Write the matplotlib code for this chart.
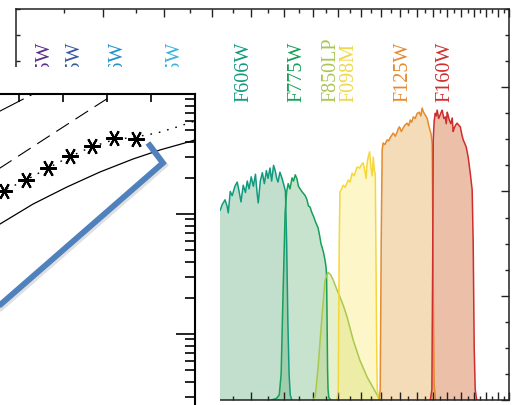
import numpy as np
import matplotlib
matplotlib.use('Agg')
import matplotlib.pyplot as plt
import matplotlib.patheffects as pe
from matplotlib.patches import Rectangle
from matplotlib.ticker import FixedLocator, NullFormatter, NullLocator, MultipleLocator

# ---- filter throughput curves (wavelength in micron, throughput) ----
f606w_wl = [0.47, 0.48, 0.49, 0.50, 0.51, 0.519, 0.524, 0.531, 0.536, 0.539, 0.544, 0.549,
            0.556, 0.562, 0.567, 0.572, 0.578, 0.584, 0.589, 0.594, 0.600, 0.606, 0.612,
            0.617, 0.620, 0.626, 0.632, 0.638, 0.644, 0.649, 0.655, 0.660, 0.666, 0.671,
            0.676, 0.680, 0.686, 0.693, 0.699, 0.704, 0.708, 0.712, 0.716, 0.720, 0.725]
f606w_tp = [0.0, 0.25, 0.33, 0.35, 0.36, 0.364, 0.375, 0.384, 0.372, 0.359, 0.400, 0.392,
            0.410, 0.418, 0.400, 0.380, 0.412, 0.398, 0.420, 0.405, 0.428, 0.410, 0.433,
            0.395, 0.378, 0.420, 0.436, 0.415, 0.440, 0.425, 0.445, 0.420, 0.450, 0.440,
            0.425, 0.418, 0.437, 0.425, 0.412, 0.400, 0.300, 0.150, 0.050, 0.010, 0.0]

f775w_wl = [0.66, 0.675, 0.684, 0.690, 0.696, 0.703, 0.708, 0.713, 0.719, 0.726, 0.731, 0.737,
            0.743, 0.748, 0.754, 0.760, 0.766, 0.772, 0.778, 0.784, 0.790, 0.796, 0.803,
            0.809, 0.815, 0.820, 0.826, 0.831, 0.836, 0.840, 0.844, 0.848, 0.851, 0.853,
            0.855, 0.857, 0.859, 0.862, 0.87]
f775w_tp = [0.0, 0.003, 0.01, 0.05, 0.20, 0.36, 0.40, 0.415, 0.405, 0.426, 0.420, 0.432,
            0.424, 0.410, 0.405, 0.400, 0.396, 0.392, 0.385, 0.372, 0.370, 0.360, 0.352,
            0.343, 0.336, 0.330, 0.315, 0.300, 0.292, 0.285, 0.276, 0.265, 0.255, 0.240,
            0.160, 0.060, 0.020, 0.005, 0.0]

f850lp_wl = [0.80, 0.809, 0.820, 0.836, 0.847, 0.859, 0.870, 0.880, 0.895, 0.908, 0.925,
             0.939, 0.966, 0.996, 1.031, 1.061, 1.086, 1.10]
f850lp_tp = [0.0, 0.006, 0.063, 0.167, 0.230, 0.245, 0.240, 0.230, 0.212, 0.198, 0.178,
             0.159, 0.115, 0.077, 0.044, 0.023, 0.006, 0.0]

f098m_wl = [0.895, 0.901, 0.905, 0.908, 0.915, 0.922, 0.930, 0.944, 0.952, 0.961, 0.970,
            0.984, 0.996, 1.005, 1.012, 1.020, 1.026, 1.031, 1.036, 1.043, 1.050, 1.056,
            1.061, 1.066, 1.071, 1.074, 1.078, 1.081, 1.09]
f098m_tp = [0.0, 0.02, 0.30, 0.399, 0.405, 0.412, 0.408, 0.422, 0.418, 0.435, 0.430,
            0.447, 0.445, 0.452, 0.455, 0.440, 0.425, 0.455, 0.466, 0.476, 0.445, 0.430,
            0.466, 0.440, 0.435, 0.300, 0.100, 0.020, 0.0]

f125w_wl = [1.090, 1.096, 1.101, 1.106, 1.111, 1.120, 1.132, 1.140, 1.148, 1.157, 1.165,
            1.176, 1.186, 1.192, 1.199, 1.210, 1.220, 1.232, 1.243, 1.252, 1.261, 1.270,
            1.279, 1.290, 1.303, 1.315, 1.325, 1.333, 1.342, 1.352, 1.365, 1.377, 1.390,
            1.397, 1.403, 1.410, 1.42]
f125w_tp = [0.0, 0.02, 0.30, 0.480, 0.493, 0.490, 0.499, 0.497, 0.503, 0.508, 0.512,
            0.506, 0.514, 0.520, 0.524, 0.515, 0.522, 0.528, 0.531, 0.526, 0.537, 0.533,
            0.543, 0.540, 0.550, 0.552, 0.545, 0.560, 0.552, 0.547, 0.540, 0.524, 0.510,
            0.490, 0.250, 0.030, 0.0]

f160w_wl = [1.385, 1.395, 1.400, 1.404, 1.410, 1.417, 1.424, 1.430, 1.440, 1.450, 1.457,
            1.464, 1.475, 1.485, 1.492, 1.499, 1.506, 1.513, 1.524, 1.534, 1.541, 1.549,
            1.560, 1.570, 1.582, 1.593, 1.604, 1.615, 1.627, 1.638, 1.653, 1.669, 1.684,
            1.692, 1.700, 1.708, 1.72]
f160w_tp = [0.0, 0.02, 0.25, 0.499, 0.535, 0.550, 0.545, 0.556, 0.540, 0.547, 0.552,
            0.556, 0.540, 0.543, 0.530, 0.552, 0.545, 0.537, 0.530, 0.541, 0.515, 0.522,
            0.528, 0.531, 0.527, 0.524, 0.510, 0.499, 0.492, 0.485, 0.466, 0.435, 0.403,
            0.300, 0.100, 0.020, 0.0]

# name, wavelengths, throughput, line colour, fill colour
filters = [
    ("F606W", f606w_wl, f606w_tp, "#129a80", "#51a470"),
    ("F775W", f775w_wl, f775w_tp, "#17a05a", "#62af70"),
    ("F850LP", f850lp_wl, f850lp_tp, "#aac84e", "#bdd470"),
    ("F098M", f098m_wl, f098m_tp, "#f4d83a", "#f9e862"),
    ("F125W", f125w_wl, f125w_tp, "#e38b2f", "#e29b37"),
    ("F160W", f160w_wl, f160w_tp, "#cf2e2e", "#c94809"),
]

# filter names along the top (label text, x position in micron, colour)
label_names = ["F225W", "F275W", "F336W", "F435W", "F606W", "F775W",
               "F850LP", "F098M", "F125W", "F160W"]
label_wl = [0.229, 0.263, 0.322, 0.420, 0.580, 0.743, 0.872, 0.948, 1.220, 1.485]
label_colors = ["#5c2d8a", "#3658a0", "#2490cc", "#35b3dc", "#129a80", "#17a05a",
                "#a9c752", "#f0d84a", "#e38b2f", "#cf2e2e"]

# ---- number counts panel (magnitude, counts) ----
model_a_mag = [23.0, 24.57, 25.3, 25.5]
model_a_n = [36500, 72150, 99100, 107900]

model_b_mag = [23.2, 24.57, 25.70, 26.84, 27.30]
model_b_n = [11430, 24180, 44980, 83660, 107150]

model_c_mag = [23.66, 24.57, 25.16, 25.66, 26.14, 26.64, 27.14, 27.64, 28.14, 28.59, 29.0, 29.34]
model_c_n = [10400, 15240, 19190, 24150, 29850, 36140, 41400, 43850, 47320, 53090, 59570, 64270]

model_d_mag = [23.66, 24.57, 25.32, 26.09, 26.84, 27.59, 28.20, 28.77, 29.0, 29.45]
model_d_n = [5012, 8260, 12110, 16790, 22390, 28710, 34140, 39080, 41400, 45500]

obs_mag = [24.65, 25.15, 25.65, 26.15, 26.65, 27.15, 27.65]
obs_n = [15560, 19190, 24150, 30410, 36900, 42950, 42170]

# callout bracket pointing at the counts
callout_mag = [27.93, 28.27, 23.89]
callout_n = [39080, 26610, 1059]

W, H = 519, 405
fig = plt.figure(figsize=(W / 100, H / 100), dpi=100)
fig.set_facecolor('white')

# === background: filter transmission curves ===
ax = fig.add_axes([16 / W, 5 / H, 493 / W, 391 / H])
for name, wl, tp, lc, fc in filters:
    ax.fill_between(wl, 0, tp, facecolor=fc, alpha=0.35, linewidth=0)
    ax.plot(wl, tp, color=lc, linewidth=1.1)

for name, x, c in zip(label_names, label_wl, label_colors):
    ax.text(x, 0.5716, name, rotation=90, ha='center', va='bottom', color=c,
            fontsize=14.5, family='Liberation Serif')

ax.set_xscale('log')
ax.set_xlim(0.2, 2.0)
ax.set_ylim(0, 0.75)
ax.xaxis.set_major_locator(FixedLocator(np.arange(0.3, 2.01, 0.1)))
ax.xaxis.set_minor_locator(FixedLocator(np.arange(0.25, 2.0, 0.1)))
ax.xaxis.set_major_formatter(NullFormatter())
ax.xaxis.set_minor_formatter(NullFormatter())
ax.yaxis.set_major_locator(MultipleLocator(0.2))
ax.yaxis.set_minor_locator(MultipleLocator(0.05))
ax.yaxis.set_major_formatter(NullFormatter())
ax.tick_params(which='both', direction='in', top=True, bottom=True, left=True, right=True,
               width=1.0, color='#222222')
ax.tick_params(which='major', length=5.5)
ax.tick_params(which='minor', length=3)
for s in ax.spines.values():
    s.set_linewidth(1.1)
    s.set_color('#222222')

# white panel behind the counts plot
fig.add_artist(Rectangle((0, 0), 220 / W, (H - 67) / H, transform=fig.transFigure,
                         facecolor='white', edgecolor='none', zorder=1))

# === number counts panel ===
ax2 = fig.add_axes([-245 / W, -49 / H, 440 / W, 360 / H], zorder=2)
ax2.set_facecolor('white')
ax2.plot(model_a_mag, model_a_n, color='k', linewidth=0.8, linestyle=(0, (25, 6)))
ax2.plot(model_b_mag, model_b_n, color='k', linewidth=0.8, linestyle=(0, (13.5, 7)))
ax2.plot(model_c_mag, model_c_n, color='k', linewidth=1.0, linestyle=(0, (1.2, 5)))
ax2.plot(model_d_mag, model_d_n, color='k', linewidth=0.9)
ax2.plot(obs_mag, obs_n, linestyle='none', marker=(6, 2, 90), markersize=12,
         markeredgewidth=1.5, color='k')

ax2.plot(callout_mag, callout_n, color='#4f81bd', linewidth=4.2, clip_on=False,
         solid_joinstyle='miter', solid_capstyle='butt', zorder=10,
         path_effects=[pe.SimpleLineShadow(offset=(1.5, -1.5), shadow_color='k', alpha=0.12),
                       pe.Normal()])

ax2.set_yscale('log')
ax2.set_xlim(19, 29)
ax2.set_ylim(1e2, 1e5)
ax2.xaxis.set_major_locator(MultipleLocator(1))
ax2.xaxis.set_minor_locator(NullLocator())
ax2.xaxis.set_major_formatter(NullFormatter())
ax2.yaxis.set_major_formatter(NullFormatter())
ax2.yaxis.set_minor_formatter(NullFormatter())
ax2.tick_params(which='both', direction='in', top=True, bottom=True, left=True, right=True,
                width=1.2)
ax2.tick_params(axis='x', which='major', length=5.5)
ax2.tick_params(axis='y', which='major', length=14)
ax2.tick_params(axis='y', which='minor', length=7)
for s in ax2.spines.values():
    s.set_linewidth(1.5)

plt.savefig('out.png', dpi=100, facecolor='white')
